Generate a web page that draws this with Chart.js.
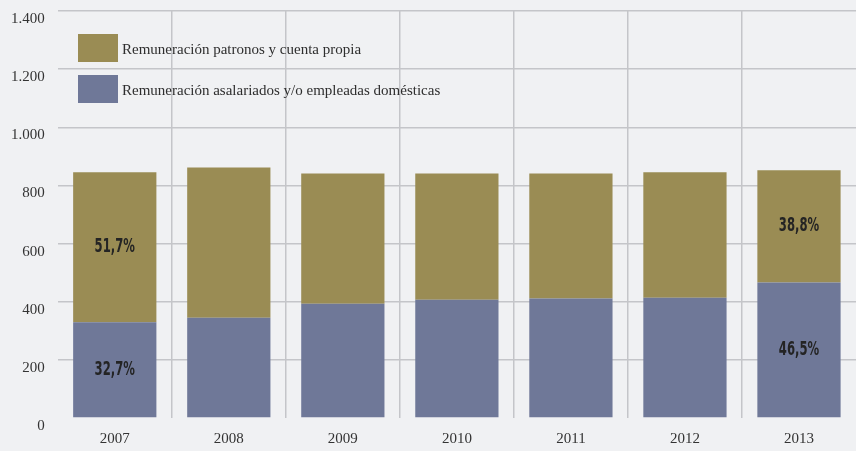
<!DOCTYPE html>
<html>
<head>
<meta charset="utf-8">
<script src="https://cdn.jsdelivr.net/npm/chart.js@4.4.1/dist/chart.umd.min.js"></script>
<style>
  html, body { margin: 0; padding: 0; background: #f0f1f3; }
  #wrap { width: 856px; height: 451px; position: relative; }
</style>
</head>
<body>
<div id="wrap"><canvas id="chart"></canvas></div>
<script>
// === 資料 ===
const years = ["2007", "2008", "2009", "2010", "2011", "2012", "2013"];
const asalariados = [329, 345, 393, 407, 411, 414, 466];
const patronos = [516, 517, 448, 434, 430, 431, 386];
const yTicks = [0, 200, 400, 600, 800, 1000, 1200, 1400];
// 標註文字 (dataset index, bar index, text)
const pctLabels = [
  { ds: 1, i: 0, text: "51,7%" },
  { ds: 0, i: 0, text: "32,7%" },
  { ds: 1, i: 6, text: "38,8%" },
  { ds: 0, i: 6, text: "46,5%" },
];
const legendNames = [
  "Remuneración patronos y cuenta propia",
  "Remuneración asalariados y/o empleadas domésticas",
];

const GOLD = "#9a8c54";
const BLUE = "#6f7898";
const GRID = "#c4c5c9";
const NONE = "rgba(0,0,0,0)";
const SERIF = "'Liberation Serif', 'DejaVu Serif', serif";

// === 百分比標註 ===
const pctPlugin = {
  id: "pct",
  afterDatasetsDraw(chart) {
    const ctx = chart.ctx;
    pctLabels.forEach(l => {
      const bar = chart.getDatasetMeta(l.ds).data[l.i];
      const cy = (bar.y + bar.base) / 2;
      ctx.save();
      ctx.translate(bar.x, cy);
      ctx.scale(0.68, 1);
      ctx.font = "bold 19px 'Liberation Sans Narrow', 'DejaVu Sans Condensed', sans-serif";
      ctx.fillStyle = "#242424";
      ctx.textAlign = "center";
      ctx.textBaseline = "middle";
      ctx.fillText(l.text, 0, 0);
      ctx.restore();
    });
  },
};

// === 圖例 ===
const legendPlugin = {
  id: "boxLegend",
  afterDraw(chart) {
    const ctx = chart.ctx;
    const colors = [GOLD, BLUE];
    ctx.save();
    legendNames.forEach((name, k) => {
      const top = 34 + k * 41;
      ctx.fillStyle = colors[k];
      ctx.fillRect(78, top, 40, 28);
      ctx.fillStyle = "#2e2e2e";
      ctx.font = "15px " + SERIF;
      ctx.textBaseline = "middle";
      ctx.fillText(name, 122, top + 16);
    });
    ctx.restore();
  },
};

new Chart(document.getElementById("chart"), {
  type: "bar",
  data: {
    labels: years,
    datasets: [
      { label: legendNames[1], data: asalariados, backgroundColor: BLUE },
      { label: legendNames[0], data: patronos, backgroundColor: GOLD },
    ],
  },
  options: {
    responsive: true,
    maintainAspectRatio: false,
    animation: false,
    layout: { padding: { left: -2, top: 11, right: 0, bottom: -9 } },
    datasets: { bar: { categoryPercentage: 1, barPercentage: 0.73 } },
    plugins: { legend: { display: false }, tooltip: { enabled: false } },
    scales: {
      x: {
        stacked: true,
        border: { display: false },
        grid: {
          color: c => (c.type !== "tick" || c.index === 0 ? NONE : GRID),
          lineWidth: 1.5,
          drawTicks: false,
        },
        ticks: { color: "#333", font: { family: SERIF, size: 15 }, padding: 12 },
      },
      y: {
        stacked: true,
        min: 0,
        max: 1400,
        border: { display: false },
        afterBuildTicks: axis => { axis.ticks = yTicks.map(v => ({ value: v })); },
        afterFit: axis => { axis.paddingTop = 0; },
        grid: {
          color: c => (c.tick && c.tick.value === 0 ? NONE : GRID),
          lineWidth: 1.5,
          drawTicks: false,
        },
        ticks: {
          color: "#333",
          font: { family: SERIF, size: 15 },
          padding: 13,
          labelOffset: 8,
          callback: v => v.toLocaleString("de-DE"),
        },
      },
    },
  },
  plugins: [pctPlugin, legendPlugin],
});
</script>
</body>
</html>
